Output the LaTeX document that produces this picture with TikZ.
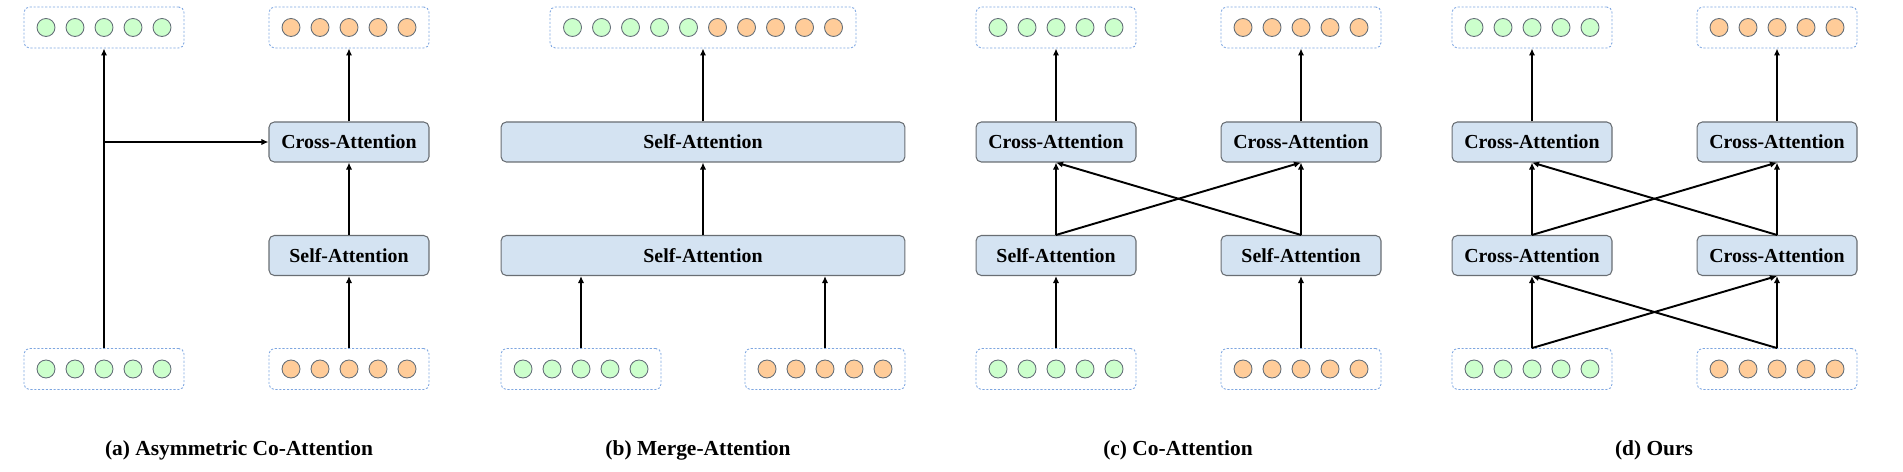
\documentclass[tikz,border=0pt]{standalone}
\usepackage{fontspec}
\setmainfont{Liberation Serif}
\usetikzlibrary{arrows.meta, positioning, calc}

\definecolor{attnfill}{RGB}{212,227,242}
\definecolor{attndraw}{RGB}{105,110,115}
\definecolor{tokgreen}{RGB}{204,255,204}
\definecolor{tokorange}{RGB}{255,204,153}
\definecolor{tokdraw}{RGB}{100,110,120}
\definecolor{seqdraw}{RGB}{126,166,224}

\begin{document}
\begin{tikzpicture}[x=0.02cm, y=-0.02cm]
    % Define styles
    \tikzstyle{attn} = [rectangle, rounded corners=3pt, draw=attndraw, line width=0.6pt, fill=attnfill, minimum width=3.2cm, minimum height=0.8cm, font=\fontsize{11.3}{13}\selectfont\bfseries]
    \tikzstyle{seq} = [rectangle, rounded corners=3pt, draw=seqdraw, line width=0.5pt, dash pattern=on 1.2pt off 1pt, minimum width=3.2cm, minimum height=0.82cm]
    \tikzstyle{tokg} = [circle, draw=tokdraw, line width=0.5pt, fill=tokgreen, minimum size=0.36cm, inner sep=0pt]
    \tikzstyle{toko} = [tokg, fill=tokorange]
    \tikzstyle{arr} = [draw, line width=1.1pt, -{Latex[length=4pt, width=3.6pt]}]
    \tikzstyle{caption} = [font=\fontsize{12.2}{14}\selectfont\bfseries]

    \useasboundingbox (0,0) rectangle (1903,472);

    % (a) Asymmetric Co-Attention
    \node[seq] (OutA1) at (104,27.5) {};
    \node[seq] (OutA2) at (349,27.5) {};
    \node[attn] (CAa) at (349,142) {Cross-Attention};
    \node[attn] (SAa) at (349,255.5) {Self-Attention};
    \node[seq] (InA1) at (104,369) {};
    \node[seq] (InA2) at (349,369) {};

    % (b) Merge-Attention
    \node[seq, minimum width=6.12cm] (OutB) at (703,27.5) {};
    \node[attn, minimum width=8.08cm] (SAb2) at (703,142) {Self-Attention};
    \node[attn, minimum width=8.08cm] (SAb1) at (703,255.5) {Self-Attention};
    \node[seq] (InB1) at (581,369) {};
    \node[seq] (InB2) at (825,369) {};

    % (c) Co-Attention
    \node[seq] (OutC1) at (1056,27.5) {};
    \node[seq] (OutC2) at (1301,27.5) {};
    \node[attn] (CAc1) at (1056,142) {Cross-Attention};
    \node[attn] (CAc2) at (1301,142) {Cross-Attention};
    \node[attn] (SAc1) at (1056,255.5) {Self-Attention};
    \node[attn] (SAc2) at (1301,255.5) {Self-Attention};
    \node[seq] (InC1) at (1056,369) {};
    \node[seq] (InC2) at (1301,369) {};

    % (d) Ours
    \node[seq] (OutD1) at (1532,27.5) {};
    \node[seq] (OutD2) at (1777,27.5) {};
    \node[attn] (CAd1) at (1532,142) {Cross-Attention};
    \node[attn] (CAd2) at (1777,142) {Cross-Attention};
    \node[attn] (CAd3) at (1532,255.5) {Cross-Attention};
    \node[attn] (CAd4) at (1777,255.5) {Cross-Attention};
    \node[seq] (InD1) at (1532,369) {};
    \node[seq] (InD2) at (1777,369) {};

    % Token circles
    \foreach \b in {OutA1, InA1, InB1, OutC1, InC1, OutD1, InD1}
        \foreach \i in {-2,...,2}
            \node[tokg] at ($(\b)+(29*\i,0)$) {};
    \foreach \b in {OutA2, InA2, InB2, OutC2, InC2, OutD2, InD2}
        \foreach \i in {-2,...,2}
            \node[toko] at ($(\b)+(29*\i,0)$) {};
    \foreach \i in {0,...,4} {
        \node[tokg] at ($(OutB)+(-130.5+29*\i,0)$) {};
        \node[toko] at ($(OutB)+(14.5+29*\i,0)$) {};
    }

    % Connections (a)
    \draw[arr] (InA1) -- (OutA1);
    \coordinate (BrA) at (InA1 |- CAa);
    \draw[arr] (BrA) -- (CAa);
    \draw[arr] (InA2) -- (SAa);
    \draw[arr] (SAa) -- (CAa);
    \draw[arr] (CAa) -- (OutA2);

    % Connections (b)
    \draw[arr] (InB1.north) -- (InB1.north |- SAb1.south);
    \draw[arr] (InB2.north) -- (InB2.north |- SAb1.south);
    \draw[arr] (SAb1) -- (SAb2);
    \draw[arr] (SAb2) -- (OutB);

    % Connections (c)
    \draw[arr] (InC1) -- (SAc1);
    \draw[arr] (InC2) -- (SAc2);
    \draw[arr] (SAc1) -- (CAc1);
    \draw[arr] (SAc2) -- (CAc2);
    \draw[arr] (SAc1.north) -- (CAc2.south);
    \draw[arr] (SAc2.north) -- (CAc1.south);
    \draw[arr] (CAc1) -- (OutC1);
    \draw[arr] (CAc2) -- (OutC2);

    % Connections (d)
    \draw[arr] (InD1) -- (CAd3);
    \draw[arr] (InD2) -- (CAd4);
    \draw[arr] (InD1.north) -- (CAd4.south);
    \draw[arr] (InD2.north) -- (CAd3.south);
    \draw[arr] (CAd3) -- (CAd1);
    \draw[arr] (CAd4) -- (CAd2);
    \draw[arr] (CAd3.north) -- (CAd2.south);
    \draw[arr] (CAd4.north) -- (CAd1.south);
    \draw[arr] (CAd1) -- (OutD1);
    \draw[arr] (CAd2) -- (OutD2);

    % Captions
    \node[caption] (CapA) at (239,450) {(a) Asymmetric Co-Attention};
    \node[caption] (CapB) at (698,450) {(b) Merge-Attention};
    \node[caption] (CapC) at (1178,450) {(c) Co-Attention};
    \node[caption] (CapD) at (1654,450) {(d) Ours};
\end{tikzpicture}
\end{document}
